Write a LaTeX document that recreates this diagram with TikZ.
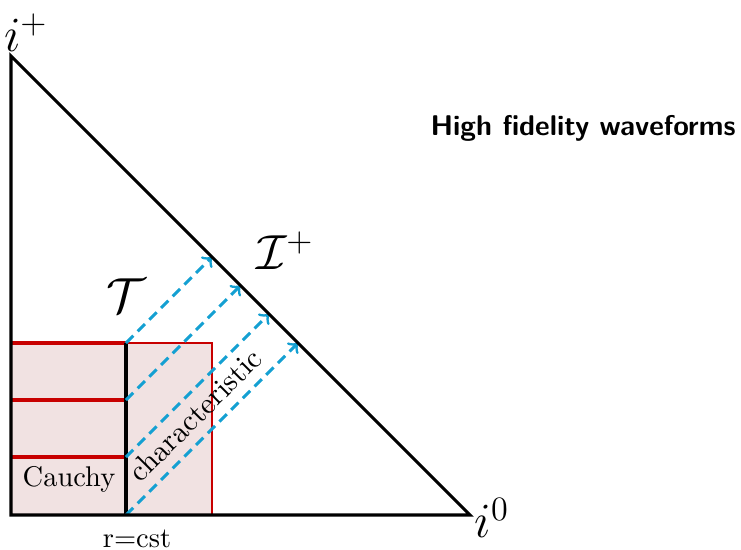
\documentclass[tikz,border=0pt]{standalone}
\usetikzlibrary{calc}
\definecolor{boxfill}{RGB}{241,226,226}
\definecolor{boxred}{RGB}{200,0,0}
\definecolor{charblue}{RGB}{20,160,210}
\begin{document}
\begin{tikzpicture}[x=0.3509pt,y=-0.3509pt,
  bigline/.style={line width=1.1pt,black},
  slice/.style={line width=1.1pt,boxred},
  charline/.style={line width=1pt,charblue,dash pattern=on 3.6pt off 2.2pt,->},
  biglabel/.style={font=\LARGE,inner sep=0pt},
  smalllabel/.style={inner sep=0pt}]
\useasboundingbox (0,0) rectangle (741,549);
% key points
\coordinate (ip) at (11,56);
\coordinate (bl) at (11,515);
\coordinate (iz) at (470,515);
\coordinate (wt) at (126,343);
\coordinate (wb) at (126,515);
\coordinate (s1) at (126,400);
\coordinate (s2) at (126,457);
\coordinate (l0) at (11,343);
\coordinate (l1) at (11,400);
\coordinate (l2) at (11,457);
\coordinate (bx1) at (212,343);
\coordinate (bx2) at (212,515);
\coordinate (h0) at (212,257);
\coordinate (h1) at (240.5,285.5);
\coordinate (h2) at (269,314);
\coordinate (h3) at (298,343);
% shaded region
\fill[boxfill] (l0) rectangle (bx2);
\draw[boxred,line width=0.4pt] (wt) -- (bx1) -- (bx2);
% Cauchy slices
\draw[slice] (l0) -- (wt);
\draw[slice] (l1) -- (s1);
\draw[slice] (l2) -- (s2);
% worldtube
\draw[bigline] (wt) -- (wb);
% characteristics
\draw[charline] (wt) -- (h0);
\draw[charline] (s1) -- (h1);
\draw[charline] (s2) -- (h2);
\draw[charline] (wb) -- (h3);
% Penrose triangle
\draw[bigline,line join=miter] (ip) -- (bl) -- (iz) -- cycle;
% labels
\node[biglabel] (lip) at (26,33) {$i^+$};
\node[biglabel] (liz) at (492,518) {$i^0$};
\node[biglabel] (lscri) at (285,251) {$\mathcal{I}^+$};
\node[biglabel] (ltube) at (126,296) {$\mathcal{T}$};
\node[smalllabel] (lcauchy) at (69,479) {Cauchy};
\node[smalllabel] (lrcst) at (137,539) {r=cst};
\node[smalllabel,rotate=45,font=\fontsize{10.5}{12}\selectfont] (lchar) at (195,415) {characteristic};
\node[smalllabel,font=\sffamily\bfseries] (ltitle) at (583,128) {High fidelity waveforms};
\end{tikzpicture}
\end{document}
